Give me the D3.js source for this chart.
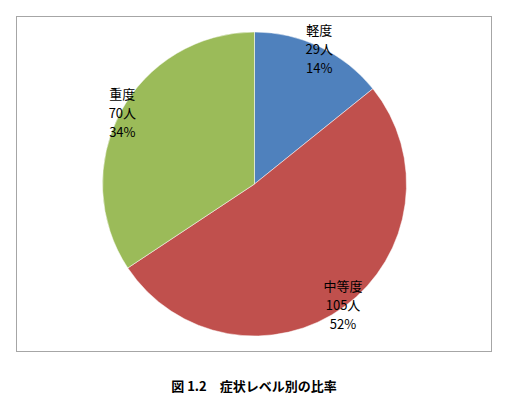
<!DOCTYPE html>
<html><head><meta charset="utf-8">
<script src="https://cdn.jsdelivr.net/npm/d3@7"></script>
<style>body{margin:0;background:#fff}svg{display:block}</style>
</head><body><svg id="vis" width="508" height="412"></svg>
<script>
var names = ["軽度", "中等度", "重度"];
var counts = [29, 105, 70];
var percents = ["14%", "52%", "34%"];
var colors = ["#4f81bd", "#c0504d", "#9bbb59"];

var svg = d3.select("#vis");
// chart frame
svg.append("rect").attr("x", 16.5).attr("y", 16.5).attr("width", 475).attr("height", 335)
  .attr("fill", "#fff").attr("stroke", "#a6a6a6").attr("stroke-width", 1);

var r = 152;
var g = svg.append("g").attr("transform", "translate(254.5,184)");
var pie = d3.pie().sort(null).value(function(d) { return d; });
var arc = d3.arc().innerRadius(0).outerRadius(r);
var labelArc = d3.arc().innerRadius(150).outerRadius(150);

var arcs = pie(counts);
g.selectAll("path").data(arcs).enter().append("path")
  .attr("d", arc).attr("fill", function(d, i) { return colors[i]; })
  .attr("stroke", "#fff").attr("stroke-width", 0.5);

var lab = g.selectAll("text.lab").data(arcs).enter().append("text")
  .attr("class", "lab")
  .attr("transform", function(d) { var c = labelArc.centroid(d); return "translate(" + c[0] + "," + c[1] + ")"; })
  .attr("text-anchor", "middle").attr("font-family", "'Noto Sans CJK JP', sans-serif")
  .attr("font-size", 13).attr("fill", "#000");
lab.append("tspan").attr("x", 0).attr("y", -14).text(function(d, i) { return names[i]; });
lab.append("tspan").attr("x", 0).attr("y", 5).text(function(d, i) { return counts[i] + "人"; });
lab.append("tspan").attr("x", 0).attr("y", 24).text(function(d, i) { return percents[i]; });

svg.append("text").attr("x", 254).attr("y", 391).attr("text-anchor", "middle")
  .attr("font-family", "'Noto Sans CJK JP', sans-serif").attr("font-size", 13).attr("font-weight", "bold")
  .text("図 1.2　症状レベル別の比率");
</script></body></html>
